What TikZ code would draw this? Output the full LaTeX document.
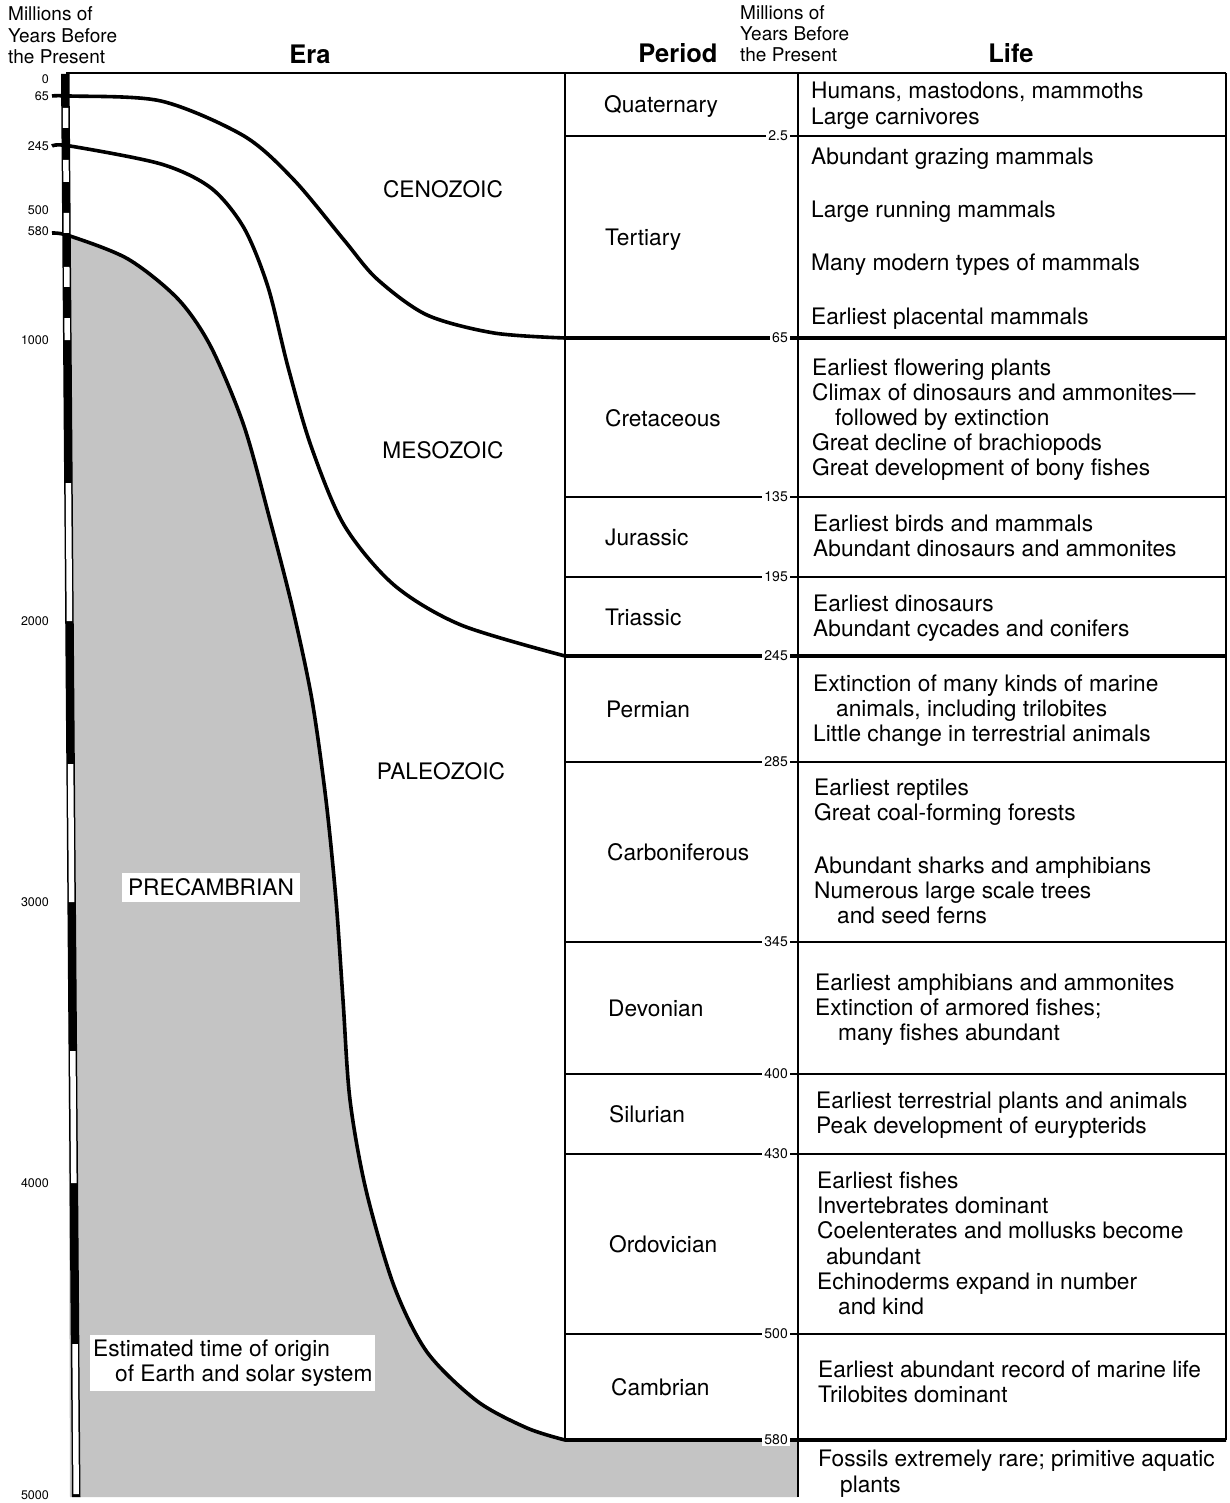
\documentclass[tikz,border=0pt]{standalone}
\usepackage{fontspec}
\setmainfont{TeX Gyre Heros}
\definecolor{stipple}{gray}{0.77}
\begin{document}
\begin{tikzpicture}[x=1pt, y=-1pt,
	bound/.style={line width=3.6pt, line join=round},
	rule/.style={line width=1.4pt},
	mya/.style={anchor=east, fill=white, inner xsep=2pt, inner ysep=1pt, font=\fontsize{14}{15}\selectfont},
	scalelbl/.style={anchor=east, inner sep=0pt, font=\fontsize{12.5}{14}\selectfont},
	txt/.style={anchor=base west, inner sep=0pt, font=\fontsize{22.7}{25}\selectfont},
	eraname/.style={anchor=base, inner sep=0pt, font=\fontsize{22.7}{25}\selectfont},
	head/.style={anchor=base, inner sep=0pt, font=\bfseries\fontsize{25.5}{28}\selectfont},
	subhead/.style={anchor=base west, inner sep=0pt, font=\fontsize{19}{21}\selectfont}]
	\path[use as bounding box, fill=white] (0,0) rectangle (1230,1503);

	% precambrian area
	\fill[stipple] (66,236) -- plot[smooth] coordinates {(70,236) (128,259) (178,299) (211,347) (244,426) (270,520) (293,610) (312,700) (326,800) (336,900) (343,1000) (350,1100) (366,1190) (394,1286) (427,1352) (477,1401) (527,1428) (565,1440)}
		-- (798,1440) -- (798,1497) -- (70,1497) -- cycle;

	% era boundaries
	\draw[bound] plot[smooth] coordinates {(52,96) (70,96) (161,101) (244,136) (294,180) (344,240) (377,279) (427,315) (494,333) (565,338)} -- (1226,338);
	\draw[bound] plot[smooth] coordinates {(52,146) (70,146) (161,164) (211,188) (244,228) (268,287) (288,367) (311,446) (344,525) (394,585) (461,625) (565,656)} -- (1226,656);
	\draw[bound] plot[smooth] coordinates {(52,233) (70,236) (128,259) (178,299) (211,347) (244,426) (270,520) (293,610) (312,700) (326,800) (336,900) (343,1000) (350,1100) (366,1190) (394,1286) (427,1352) (477,1401) (527,1428) (565,1440)} -- (1226,1440);

	% table
	\draw[rule] (66,73) -- (1226,73);
	\draw[rule] (565,73) -- (565,1440);
	\draw[rule] (798,73) -- (798,1497);
	\draw[rule] (1226,73) -- (1226,1440);
	\foreach \y in {136, 497, 577, 762, 942, 1074, 1154, 1334}
		\draw[rule] (565,\y) -- (1226,\y);
	\foreach \y/\m in {136/2.5, 338/65, 497/135, 577/195, 656/245, 762/285, 942/345, 1074/400, 1154/430, 1334/500, 1440/580}
		\node[mya] (tick\y) at (790,\y) {\m};

	% time bar
	\fill (61,74) -- (69.5,74) -- (80.5,1497) -- (72,1497) -- cycle;
	\foreach \a/\b in {108/128, 160/182, 213/233, 267/287, 318/340, 483/621, 764/902, 1051/1183, 1344/1494} {
		\pgfmathsetmacro\xa{62.5+11*(\a-74)/1423}
		\pgfmathsetmacro\xb{62.5+11*(\b-74)/1423}
		\fill[white] (\xa,\a) -- (\xa+5.5,\a) -- (\xb+5.5,\b) -- (\xb,\b) -- cycle;
	}
	\foreach \y/\t in {79/0, 96/65, 146/245, 210/500, 231/580, 340/1000, 621/2000, 902/3000, 1183/4000, 1495/5000}
		\node[scalelbl] (s\t) at (49,\y) {\t};

	% headings
	\foreach \y/\t [count=\i] in {21/Millions of, 43/Years Before, 64/the Present}
		\node[subhead] (yrsL\i) at (8,\y) {\t};
	\foreach \y/\t [count=\i] in {20/Millions of, 41/Years Before, 62/the Present}
		\node[subhead] (yrsR\i) at (740,\y) {\t};
	\node[head] (hEra) at (310,64) {Era};
	\node[head] (hPeriod) at (678,63) {Period};
	\node[head] (hLife) at (1011,63) {Life};

	% eras
	\node[eraname] (ceno) at (443,198) {CENOZOIC};
	\node[eraname] (meso) at (443,458) {MESOZOIC};
	\node[eraname] (paleo) at (441,779) {PALEOZOIC};
	\node[fill=white, inner sep=0pt, minimum width=178pt, minimum height=29pt, font=\fontsize{22.7}{25}\selectfont] (precam) at (211,887.5) {PRECAMBRIAN};
	\node[fill=white, anchor=north west, align=left, inner xsep=3pt, inner ysep=4.5pt, font=\fontsize{22.7}{25}\selectfont] (origin) at (90,1335)
		{Estimated time of origin\\\hspace*{22pt}of Earth and solar system};

	% periods
	\foreach \x/\y/\t in {604/113/Quaternary, 605/246/Tertiary, 605/426/Cretaceous, 605/545/Jurassic, 605/625/Triassic, 606/717/Permian, 607/860/Carboniferous, 608/1016/Devonian, 609/1122/Silurian, 609/1252/Ordovician, 611/1395/Cambrian}
		\node[txt] (per\t) at (\x,\y) {\t};

	% life
	\foreach \x/\y/\t in {811/99/{Humans, mastodons, mammoths}, 811/125/Large carnivores,
		811/165/Abundant grazing mammals, 811/218/Large running mammals, 811/271/Many modern types of mammals, 811/324/Earliest placental mammals,
		812/375/Earliest flowering plants, 812/400/Climax of dinosaurs and ammonites---, 835/425/followed by extinction, 812/450/Great decline of brachiopods, 812/475/Great development of bony fishes,
		813/531/Earliest birds and mammals, 813/556/Abundant dinosaurs and ammonites,
		813/611/Earliest dinosaurs, 813/636/Abundant cycades and conifers,
		813/691/Extinction of many kinds of marine, 836/716/{animals, including trilobites}, 813/741/Little change in terrestrial animals,
		814/795/Earliest reptiles, 814/820/Great coal-forming forests, 814/873/Abundant sharks and amphibians, 814/898/Numerous large scale trees, 837/923/and seed ferns,
		815/990/Earliest amphibians and ammonites, 815/1015/Extinction of armored fishes;, 838/1040/many fishes abundant,
		816/1108/Earliest terrestrial plants and animals, 816/1133/Peak development of eurypterids,
		817/1188/Earliest fishes, 817/1213/Invertebrates dominant, 817/1238/Coelenterates and mollusks become, 826/1264/abundant, 817/1289/Echinoderms expand in number, 838/1314/and kind,
		818/1377/Earliest abundant record of marine life, 818/1402/Trilobites dominant,
		818/1466/Fossils extremely rare; primitive aquatic, 840/1492/plants}
		\node[txt] (life\y) at (\x,\y) {\t};
\end{tikzpicture}
\end{document}
